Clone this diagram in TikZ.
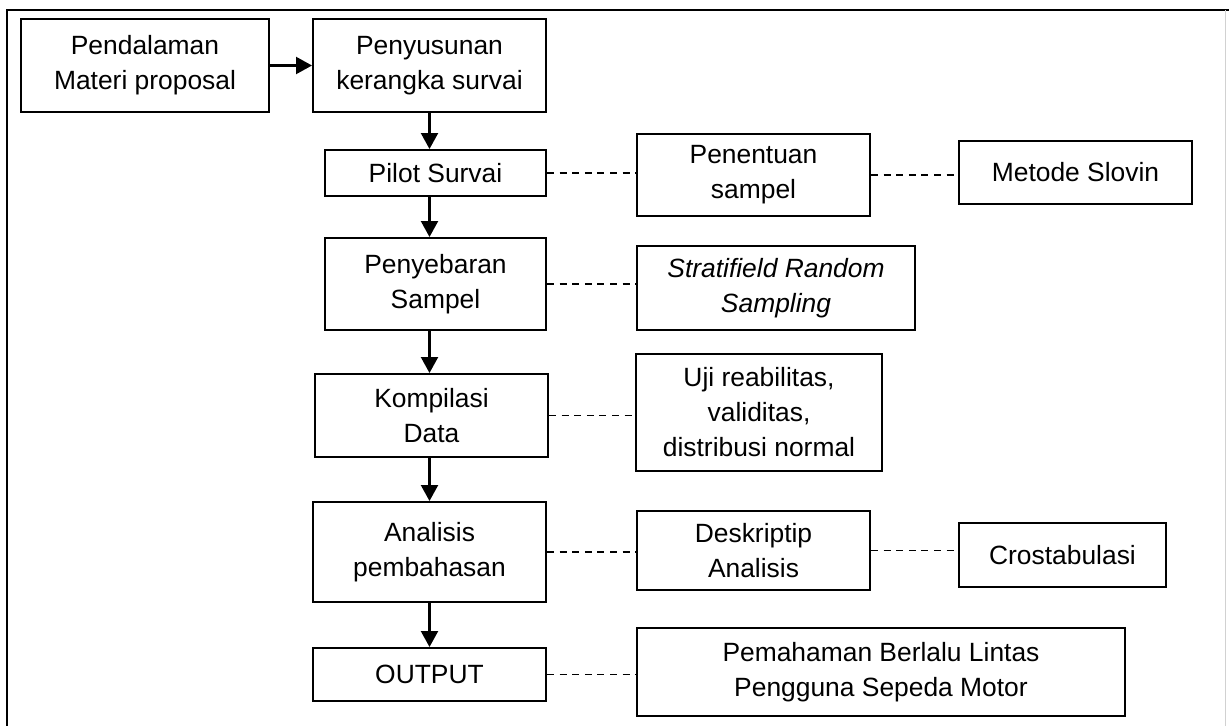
\documentclass[tikz,border=0pt]{standalone}
\usepackage{fontspec}
\setmainfont{Liberation Sans}
\usetikzlibrary{arrows.meta}
\tikzset{
  box/.style={draw, line width=2pt, inner sep=0pt, align=center,
    font=\fontsize{26.4pt}{35pt}\selectfont},
  flow/.style={line width=2.2pt, -{Triangle[length=16pt,width=17pt]}},
  dashlink/.style={line width=1.6pt, dash pattern=on 7pt off 5.6pt},
  frame/.style={line width=2pt}
}
\begin{document}
\begin{tikzpicture}[x=1pt,y=-1pt]
\useasboundingbox (0,0) rectangle (1229,726);
% outer frame
\coordinate (ftl) at (7,10);
\coordinate (ftr) at (1229,10);
\coordinate (fbl) at (7,726);
\coordinate (grt) at (1225,10);
\coordinate (grb) at (1225,726);
\draw[frame] (ftr) -- (ftl) -- (fbl);
\draw[line width=1pt, draw=black!18] (grt) -- (grb);

% left column
\node[box, minimum width=248pt, minimum height=93pt] (A) at (145,65.5) {Pendalaman\\Materi proposal};
\node[box, minimum width=233pt, minimum height=93pt] (B) at (429.5,65.5) {Penyusunan\\kerangka survai};
\node[box, minimum width=221pt, minimum height=46pt] (C) at (435.5,173) {Pilot Survai};
\node[box, minimum width=221pt, minimum height=92pt] (F) at (435.5,284) {Penyebaran\\Sampel};
\node[box, minimum width=233pt, minimum height=83pt] (H) at (431.5,415.5) {Kompilasi\\Data};
\node[box, minimum width=233pt, minimum height=100pt] (J) at (429.5,552) {Analisis\\pembahasan};
\node[box, minimum width=233pt, minimum height=53pt] (M) at (429.5,674.5) {OUTPUT};

% middle column
\node[box, minimum width=233pt, minimum height=82pt] (D) at (753.5,175) {Penentuan\\sampel};
\node[box, minimum width=278pt, minimum height=84pt] (G) at (776,288) {\itshape Stratifield Random\\\itshape Sampling};
\node[box, minimum width=246pt, minimum height=117pt] (I) at (759,412.5) {Uji reabilitas,\\validitas,\\distribusi normal};
\node[box, minimum width=233pt, minimum height=79pt] (K) at (753.5,550.5) {Deskriptip\\Analisis};
\node[box, minimum width=488pt, minimum height=88pt] (N) at (881,672) {Pemahaman Berlalu Lintas\\Pengguna Sepeda Motor};

% right column
\node[box, minimum width=233pt, minimum height=63pt] (E) at (1075.5,172.5) {Metode Slovin};
\node[box, minimum width=207pt, minimum height=64pt] (L) at (1062.5,555) {Crostabulasi};

% arrows
\draw[flow] (A.east) -- (A.east -| B.west);
\draw[flow] (B.south) -- (B.south |- C.north);
\draw[flow] (C.south -| B.south) -- (B.south |- F.north);
\draw[flow] (F.south -| B.south) -- (B.south |- H.north);
\draw[flow] (H.south -| B.south) -- (B.south |- J.north);
\draw[flow] (J.south -| B.south) -- (B.south |- M.north);

% dashed links
\draw[dashlink] (C.east) -- (C.east -| D.west);
\draw[dashlink] (D.east) -- (D.east -| E.west);
\draw[dashlink] (F.east) -- (F.east -| G.west);
\draw[dashlink] (H.east) -- (H.east -| I.west);
\draw[dashlink] (J.east) -- (J.east -| K.west);
\draw[dashlink] (K.east) -- (K.east -| L.west);
\draw[dashlink] (M.east) -- (M.east -| N.west);
\end{tikzpicture}
\end{document}
